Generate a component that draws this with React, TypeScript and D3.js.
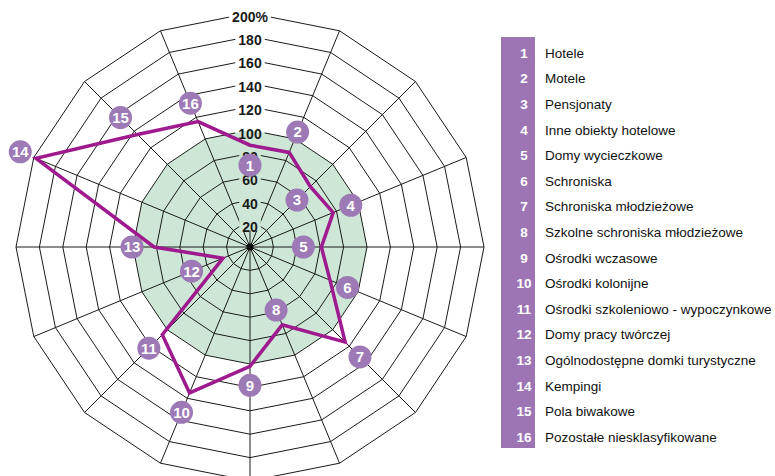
import React, { useEffect, useRef } from "react";
import * as d3 from "d3";

const categories = [
  "Hotele",
  "Motele",
  "Pensjonaty",
  "Inne obiekty hotelowe",
  "Domy wycieczkowe",
  "Schroniska",
  "Schroniska młodzieżowe",
  "Szkolne schroniska młodzieżowe",
  "Ośrodki wczasowe",
  "Ośrodki kolonijne",
  "Ośrodki szkoleniowo - wypoczynkowe",
  "Domy pracy twórczej",
  "Ogólnodostępne domki turystyczne",
  "Kempingi",
  "Pola biwakowe",
  "Pozostałe niesklasyfikowane",
];

const values = [87, 87.5, 73, 77, 61, 74, 115, 72, 102, 135, 106, 25, 82, 198, 136, 116];

const ringTicks = [20, 40, 60, 80, 100, 120, 140, 160, 180, 200];
const tickLabels = ["20", "40", "60", "80", "100", "120", "140", "160", "180", "200%"];

function App() {
  const ref = useRef<SVGSVGElement | null>(null);
  const width = 775;
  const height = 476;
  const cx = 250;
  const cy = 247;
  const outer = 234;
  // radial shift (px) of the numbered bubbles away from the line vertex
  const labelShift = [-20, 22, -19, 19, -18, 19, 21, -16, 19, 21, 19, 34, 22, 17, 24, 20];

  useEffect(() => {
    const n = categories.length;
    const step = (2 * Math.PI) / n;
    const r = d3.scaleLinear().domain([0, 200]).range([0, outer]);
    const idx = d3.range(n);

    const svg = d3.select(ref.current);
    svg.selectAll("*").remove();
    svg
      .attr("width", width)
      .attr("height", height)
      .attr("viewBox", [0, 0, width, height])
      .attr("style", "display:block; font-family: Arial, 'Liberation Sans', sans-serif;");

    const ring = (v: number) =>
      d3
        .lineRadial<number>()
        .angle((i) => i * step)
        .radius(() => r(v))
        .curve(d3.curveLinearClosed)(idx);

    const g = svg.append("g").attr("transform", `translate(${cx},${cy})`);

    // green area up to 100%
    g.append("path").attr("d", ring(100)).attr("fill", "#cde6d5");

    // tick labels (measured first to build the mask)
    const labelsG = svg.append("g");
    const tl = labelsG
      .selectAll("text")
      .data(ringTicks)
      .join("text")
      .attr("x", cx)
      .attr("y", (d) => cy - r(d) + 3.5)
      .attr("text-anchor", "middle")
      .attr("dominant-baseline", "central")
      .attr("font-size", 14)
      .attr("font-weight", "bold")
      .attr("fill", "#1a1a1a")
      .text((d, i) => tickLabels[i]);

    const defs = svg.insert("defs", ":first-child");
    const mask = defs.append("mask").attr("id", "gridmask").attr("maskUnits", "userSpaceOnUse");
    mask.append("rect").attr("x", 0).attr("y", 0).attr("width", width).attr("height", height).attr("fill", "white");
    tl.each(function (d) {
      const w = (this as SVGTextElement).getComputedTextLength();
      mask
        .append("rect")
        .attr("x", cx - w / 2 - 3)
        .attr("y", cy - r(d) - 7)
        .attr("width", w + 6)
        .attr("height", 14)
        .attr("fill", "black");
    });
    mask
      .append("rect")
      .attr("x", cx - 2)
      .attr("y", cy - outer - 2)
      .attr("width", 4)
      .attr("height", outer - 18)
      .attr("fill", "black");

    const grid = g
      .append("g")
      .attr("mask", "url(#gridmask)")
      .attr("transform", `translate(${-cx},${-cy})`)
      .append("g")
      .attr("transform", `translate(${cx},${cy})`)
      .attr("fill", "none")
      .attr("stroke", "#1a1a1a")
      .attr("stroke-width", 1);

    grid
      .selectAll("path.ring")
      .data(ringTicks)
      .join("path")
      .attr("class", "ring")
      .attr("d", (d) => ring(d));

    grid
      .selectAll("line")
      .data(idx)
      .join("line")
      .attr("x1", 0)
      .attr("y1", 0)
      .attr("x2", (i) => outer * Math.sin(i * step))
      .attr("y2", (i) => -outer * Math.cos(i * step));

    g.append("circle").attr("r", 3.5).attr("fill", "#111");

    labelsG.raise();

    // data line
    const line = d3
      .lineRadial<number>()
      .angle((d, i) => i * step)
      .radius((d) => r(d))
      .curve(d3.curveLinearClosed);

    const dataG = svg.append("g").attr("transform", `translate(${cx},${cy})`);
    dataG
      .append("path")
      .attr("d", line(values))
      .attr("fill", "none")
      .attr("stroke", "#9e1a8e")
      .attr("stroke-width", 3.5)
      .attr("stroke-linejoin", "miter");

    const bubbles = dataG
      .selectAll("g.bubble")
      .data(values)
      .join("g")
      .attr("class", "bubble")
      .attr("transform", (d, i) => {
        const rr = r(d) + labelShift[i];
        return `translate(${rr * Math.sin(i * step)},${-rr * Math.cos(i * step)})`;
      });
    bubbles.append("circle").attr("r", 11.5).attr("fill", "#9d79b6");
    bubbles
      .append("text")
      .attr("text-anchor", "middle")
      .attr("dy", "0.36em")
      .attr("fill", "white")
      .attr("font-size", 15)
      .attr("font-weight", "bold")
      .text((d, i) => i + 1);

    // legend
    const rowY = d3.scaleLinear().domain([0, n - 1]).range([53, 437]);
    const leg = svg.append("g");
    leg
      .append("rect")
      .attr("x", 501)
      .attr("y", 37)
      .attr("width", 34)
      .attr("height", 411)
      .attr("fill", "#9d75b5");
    const rows = leg
      .selectAll("g.row")
      .data(categories)
      .join("g")
      .attr("class", "row")
      .attr("transform", (d, i) => `translate(0,${rowY(i)})`);
    rows
      .append("text")
      .attr("x", 524)
      .attr("dy", "0.36em")
      .attr("text-anchor", "middle")
      .attr("fill", "white")
      .attr("font-size", 13.5)
      .attr("font-weight", "bold")
      .text((d, i) => i + 1);
    rows
      .append("text")
      .attr("x", 545)
      .attr("dy", "0.36em")
      .attr("fill", "#111")
      .attr("font-size", 13.5)
      .text((d) => d);
  }, []);

  return (
    <div style={{ position: "absolute", left: 0, top: 0 }}>
      <svg ref={ref}></svg>
    </div>
  );
}

export default App;
